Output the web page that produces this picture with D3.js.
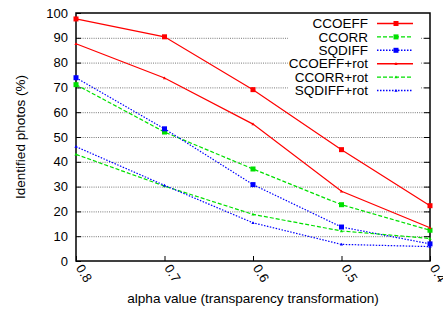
<!DOCTYPE html>
<html><head><meta charset="utf-8">
<script src="https://cdn.jsdelivr.net/npm/d3@7"></script>
<style>body{margin:0;background:#fff}svg{display:block;font-family:"Liberation Sans",Arial,sans-serif}</style>
</head><body><svg id="c" width="443" height="309"></svg>
<script>
const alphas = [0.8, 0.7, 0.6, 0.5, 0.4];
const xTickLabels = ["0.8", "0.7", "0.6", "0.5", "0.4"];
const yTicks = [0,10,20,30,40,50,60,70,80,90,100];
const seriesNames = ["CCOEFF","CCORR","SQDIFF","CCOEFF+rot","CCORR+rot","SQDIFF+rot"];
const ccoeff     = [97.6, 90.4, 69.1, 44.9, 22.3];
const ccorr      = [71.1, 52.0, 37.1, 22.7, 12.4];
const sqdiff     = [73.9, 53.3, 30.8, 13.7, 6.9];
const ccoeffRot  = [87.6, 73.8, 55.2, 28.1, 13.4];
const ccorrRot   = [43.0, 30.2, 18.8, 12.1, 9.1];
const sqdiffRot  = [46.1, 30.5, 15.4, 6.7, 5.8];
const seriesValues = [ccoeff, ccorr, sqdiff, ccoeffRot, ccorrRot, sqdiffRot];
const colors = ["#ff0000","#00e000","#0000ff","#ff0000","#00e000","#0000ff"];
const dashes = [null,"4,2","1.5,1.5",null,"4,2","1.5,1.5"];
const markers = ["square","square","square","tri","tri","tri"];

const svg = d3.select("#c");
const L=76,R=430,T=13,B=261;
const x = d3.scalePoint().domain(alphas).range([L,R]);
const y = d3.scaleLinear().domain([0,100]).range([B,T]);

const legX0=288, legX1=421, legY0=14, legY1=96;

const g = svg.append("g");
yTicks.slice(1,-1).forEach(v=>{
  const yy=y(v)+0.5;
  if(yy>legY0 && yy<legY1){
    g.append("line").attr("x1",L).attr("x2",legX0).attr("y1",yy).attr("y2",yy);
    g.append("line").attr("x1",legX1).attr("x2",R).attr("y1",yy).attr("y2",yy);
  } else {
    g.append("line").attr("x1",L).attr("x2",R).attr("y1",yy).attr("y2",yy);
  }
});
g.selectAll("line").attr("stroke","#777").attr("stroke-width",1).attr("stroke-dasharray","1,1.2");

yTicks.slice(1,-1).forEach(v=>{
  svg.append("line").attr("x1",R-6).attr("x2",R).attr("y1",y(v)+0.5).attr("y2",y(v)+0.5).attr("stroke","#000");
});

const yAxis = d3.axisLeft(y).tickValues(yTicks).tickSize(-5).tickPadding(8);
const ya = svg.append("g").attr("transform",`translate(${L},0)`).call(yAxis);
ya.select(".domain").remove();
ya.selectAll("text").attr("font-size","13px").attr("fill","#000").attr("font-family","Liberation Sans, Arial, sans-serif");
ya.selectAll("line").attr("stroke","#000");

const xAxis = d3.axisBottom(x).tickSize(-5).tickFormat((d,i)=>xTickLabels[i]);
const xa = svg.append("g").attr("transform",`translate(0,${B})`).call(xAxis);
xa.select(".domain").remove();
xa.selectAll("line").attr("stroke","#000");
xa.selectAll("text").attr("font-size","13px").attr("fill","#000")
  .attr("font-family","Liberation Sans, Arial, sans-serif")
  .attr("text-anchor","start").attr("dy",null).attr("y",0)
  .attr("transform","translate(-1,7) rotate(58)");

svg.append("rect").attr("x",L).attr("y",T).attr("width",R-L).attr("height",B-T)
  .attr("fill","none").attr("stroke","#000").attr("stroke-width",1.5);

const line = d3.line().x((d,i)=>x(alphas[i])).y(d=>y(d));
function marker(sel, type, cx, cy, col){
  if(type==="square"){
    sel.append("rect").attr("x",cx-2.5).attr("y",cy-2.5).attr("width",5).attr("height",5).attr("fill",col);
  } else {
    sel.append("path").attr("d",`M${cx-1.6},${cy+1.2}L${cx+1.6},${cy+1.2}L${cx},${cy-1.6}Z`).attr("fill",col);
  }
}
seriesValues.forEach((vals,si)=>{
  const gs = svg.append("g");
  gs.append("path").attr("d",line(vals)).attr("fill","none").attr("stroke",colors[si])
    .attr("stroke-width",1.2).attr("stroke-dasharray",dashes[si]);
  vals.forEach((v,i)=>marker(gs,markers[si],x(alphas[i]),y(v),colors[si]));
});

seriesNames.forEach((n,i)=>{
  const yy = 23.5 + i*13.4;
  svg.append("text").attr("x",368).attr("y",yy+4.7).attr("text-anchor","end")
    .attr("font-size","13.5px").attr("fill","#000").text(n);
  svg.append("line").attr("x1",377).attr("x2",413).attr("y1",yy).attr("y2",yy)
    .attr("stroke",colors[i]).attr("stroke-width",1.4).attr("stroke-dasharray",dashes[i]);
  marker(svg,markers[i],396,yy,colors[i]);
});

svg.append("text").attr("x",253).attr("y",303).attr("text-anchor","middle")
  .attr("font-size","13.6px").text("alpha value (transparency transformation)");
svg.append("text").attr("transform","translate(25,137) rotate(-90)").attr("text-anchor","middle")
  .attr("font-size","13.5px").text("Identified photos (%)");
</script></body></html>
